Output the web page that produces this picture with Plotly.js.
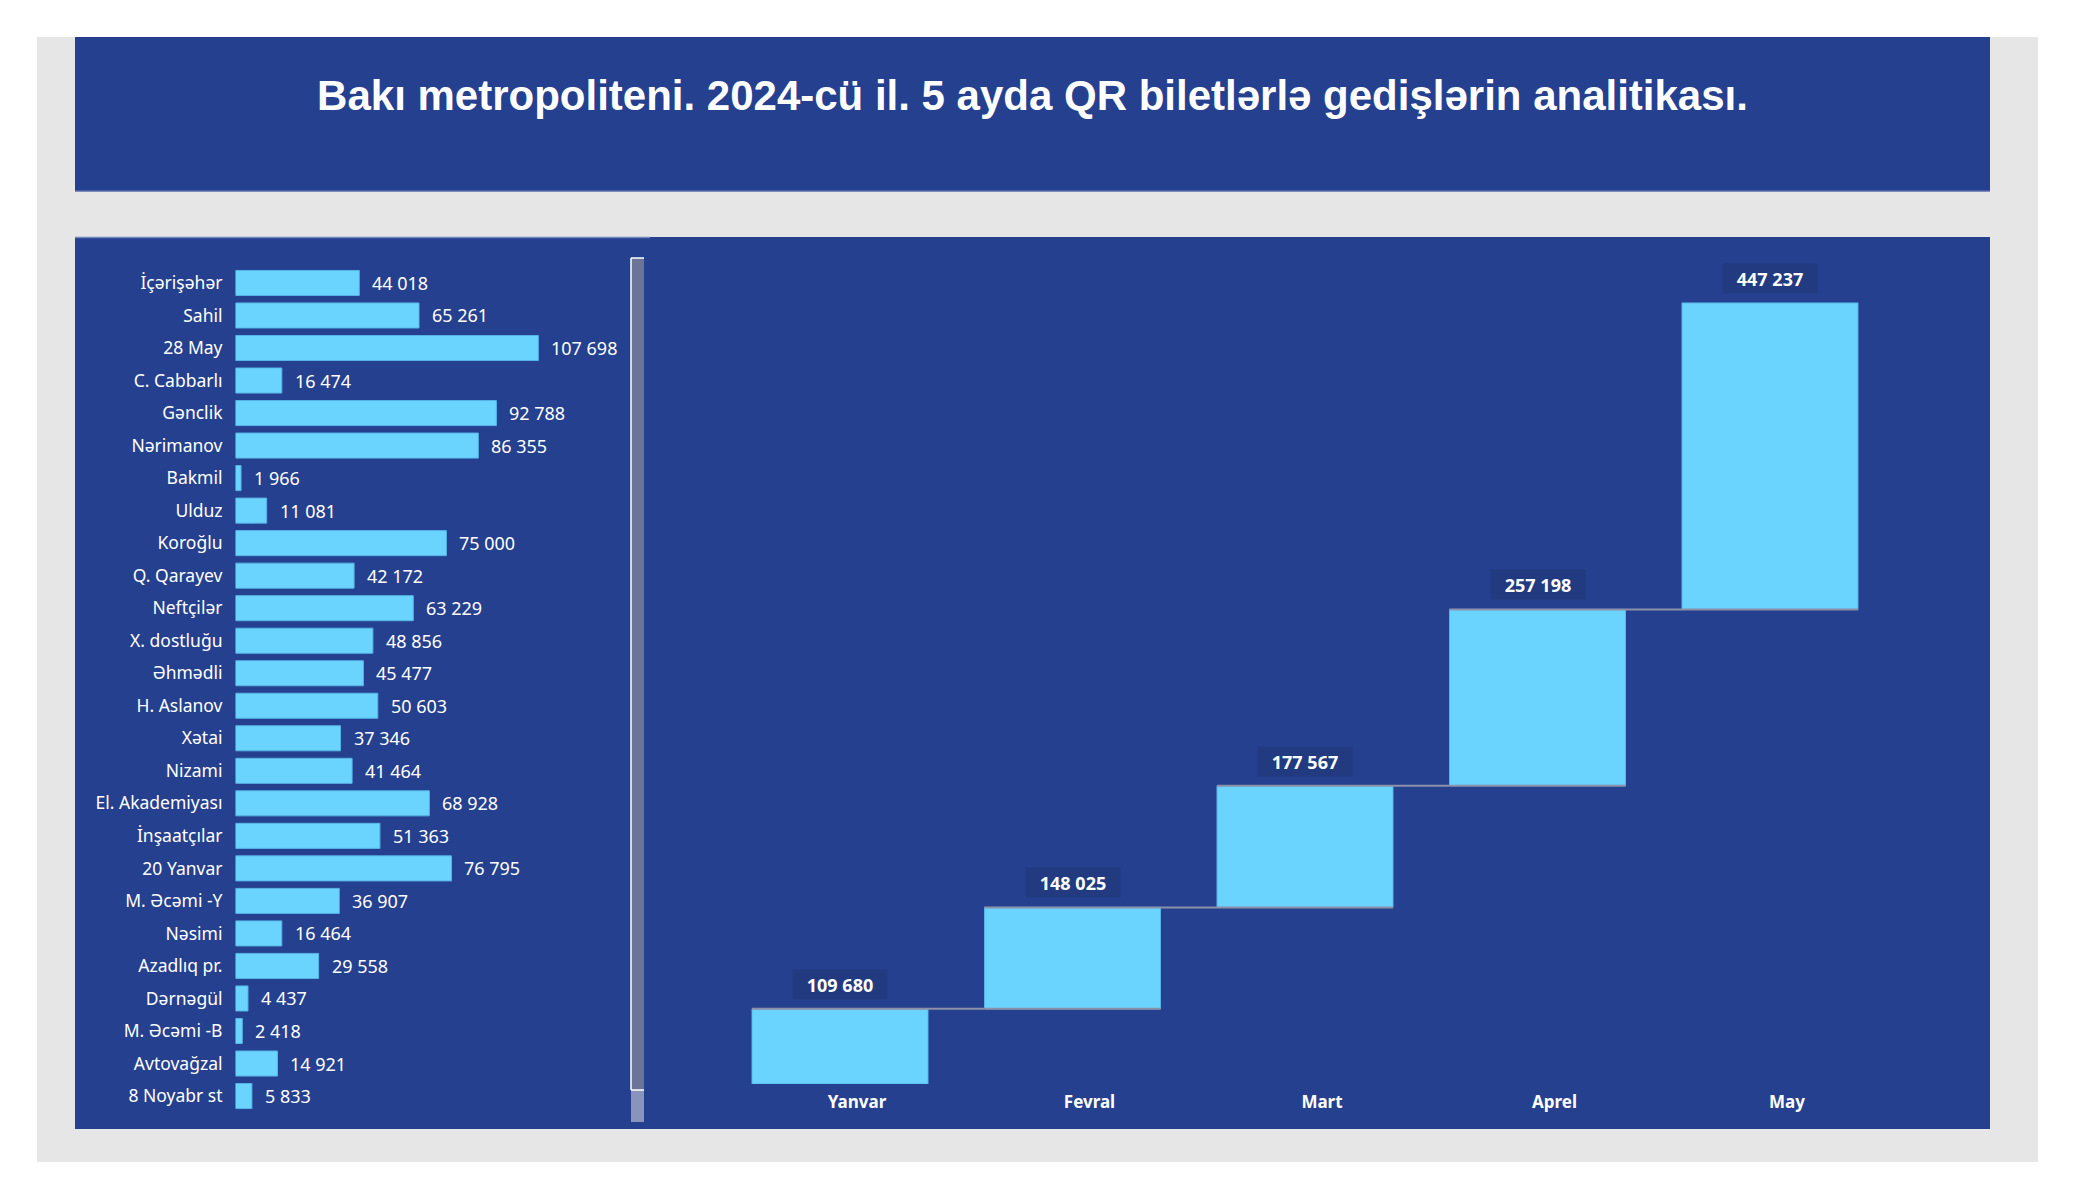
<!DOCTYPE html>
<html>
<head>
<meta charset="utf-8">
<script src="https://cdn.plot.ly/plotly-3.0.1.min.js"></script>
<style>
html,body{margin:0;padding:0;background:#ffffff;}
#chart{width:2075px;height:1200px;}
</style>
</head>
<body>
<div id="chart"></div>
<script>
// ---- data ----
const stations = ['İçərişəhər','Sahil','28 May','C. Cabbarlı','Gənclik','Nərimanov','Bakmil','Ulduz','Koroğlu','Q. Qarayev','Neftçilər','X. dostluğu','Əhmədli','H. Aslanov','Xətai','Nizami','El. Akademiyası','İnşaatçılar','20 Yanvar','M. Əcəmi -Y','Nəsimi','Azadlıq pr.','Dərnəgül','M. Əcəmi -B','Avtovağzal','8 Noyabr st'];
const rides = [44018,65261,107698,16474,92788,86355,1966,11081,75000,42172,63229,48856,45477,50603,37346,41464,68928,51363,76795,36907,16464,29558,4437,2418,14921,5833];
const months = ['Yanvar','Fevral','Mart','Aprel','May'];
const monthly = [109680,148025,177567,257198,447237];
const titleText = 'Bakı metropoliteni. 2024-cü il. 5 ayda QR biletlərlə gedişlərin analitikası.';

// ---- helpers ----
const W = 2075, H = 1200;
const px = v => v / W;
const py = v => 1 - v / H;
const fmt = n => String(n).replace(/\B(?=(\d{3})+(?!\d))/g, ' ');

const PANEL = '#25408F';
const BAR = '#6AD4FF';
const FONT = 'Noto Sans, Open Sans, sans-serif';

function rect(x0, y0, x1, y1, fill, line) {
  return {type:'rect', xref:'paper', yref:'paper', x0:px(x0), x1:px(x1), y0:py(y1), y1:py(y0),
    fillcolor:fill, line: line || {width:0}, layer:'below'};
}
function hline(x0, x1, y, color, w) {
  return {type:'line', xref:'paper', yref:'paper', x0:px(x0), x1:px(x1), y0:py(y), y1:py(y),
    line:{color:color, width:w}, layer:'below'};
}
function vline(x, y0, y1, color, w) {
  return {type:'line', xref:'paper', yref:'paper', x0:px(x), x1:px(x), y0:py(y0), y1:py(y1),
    line:{color:color, width:w}, layer:'above'};
}

const shapes = [
  rect(37, 37, 2038, 1162, '#E6E6E6'),
  rect(75, 37, 1990, 191, PANEL),
  hline(75, 1990, 191, '#5A6DA8', 1.5),
  rect(75, 237, 1990, 1129, PANEL),
  hline(75, 650, 237.5, '#7285BC', 1.5),
  // scrollbar
  {type:'rect', xref:'paper', yref:'paper', x0:px(631), x1:px(644), y0:py(1090), y1:py(258),
    fillcolor:'#6B7496', line:{width:0}, layer:'above'},
  {type:'rect', xref:'paper', yref:'paper', x0:px(631), x1:px(644), y0:py(1122), y1:py(1090),
    fillcolor:'#8A93BC', line:{width:0}, layer:'above'},
  vline(631, 258, 1090, '#FFFFFF', 1.5),
  {type:'line', xref:'paper', yref:'paper', x0:px(631), x1:px(644), y0:py(258), y1:py(258), line:{color:'#FFFFFF', width:1.5}, layer:'above'},
  {type:'line', xref:'paper', yref:'paper', x0:px(631), x1:px(644), y0:py(1090), y1:py(1090), line:{color:'#FFFFFF', width:1.5}, layer:'above'}
];

// cumulative tops for waterfall labels
const cum = [];
monthly.reduce((s, v, i) => { cum[i] = s + v; return s + v; }, 0);

const annotations = [];
stations.forEach((s, i) => {
  annotations.push({x: rides[i], y: s, xref:'x', yref:'y', xanchor:'left', yanchor:'middle',
    xshift: 11, text: fmt(rides[i]), showarrow:false,
    font:{family:FONT, size:18, color:'#FFFFFF'}});
});
months.forEach((m, i) => {
  annotations.push({x: m, y: cum[i], xref:'x2', yref:'y2', xanchor:'center', yanchor:'bottom',
    yshift: 9, text: fmt(monthly[i]), showarrow:false, bgcolor:'#223A80',
    width: 86, height: 21, borderpad: 4,
    font:{family:FONT, size:18, color:'#FFFFFF', weight:'bold'}});
});

const traces = [
  {type:'bar', orientation:'h', x: rides, y: stations, xaxis:'x', yaxis:'y',
   marker:{color:BAR, line:{color:'#58B4E6', width:1}}, hoverinfo:'skip'},
  {type:'waterfall', x: months, y: monthly, measure: months.map(() => 'relative'),
   xaxis:'x2', yaxis:'y2', textinfo:'none', hoverinfo:'skip',
   increasing:{marker:{color:BAR, line:{color:'#58B4E6', width:1}}},
   connector:{mode:'spanning', line:{color:'#8C90A8', width:2}}}
];

const layout = {
  width: W, height: H,
  margin:{l:0, r:0, t:0, b:0, pad:0},
  paper_bgcolor:'#FFFFFF', plot_bgcolor:'rgba(0,0,0,0)',
  showlegend:false,
  hovermode:false,
  bargap:0.23,
  waterfallgap:0.243,
  title:{text:'<b>' + titleText + '</b>', x:0.4976, xanchor:'center', xref:'paper',
    y: 1 - 95/H, yanchor:'middle', yref:'container',
    font:{family:'Liberation Sans, Arial, sans-serif', size:42, color:'#FFFFFF'}},
  xaxis:{domain:[px(235.5), px(235.5 + 140000*0.002812)], range:[0, 140000], visible:false, fixedrange:true},
  yaxis:{domain:[1 - 1112.3/H, 1 - 266.7/H], type:'category', range:[25.5, -0.5],
    showgrid:false, zeroline:false, showline:false, ticks:'', ticklabelstandoff:12,
    tickfont:{family:FONT, size:17.5, color:'#FFFFFF'}, fixedrange:true},
  xaxis2:{domain:[px(723.75), px(1886.25)], anchor:'y2', type:'category', range:[-0.5, 4.5],
    showgrid:false, zeroline:false, showline:false, ticks:'', ticklabelshift:17, ticklabelstandoff:6,
    tickfont:{family:FONT, size:17, color:'#FFFFFF', weight:'bold'}, fixedrange:true},
  yaxis2:{domain:[1 - 1084/H, 1 - 261.6/H], anchor:'x2', range:[0, 1200000], visible:false, fixedrange:true},
  shapes: shapes,
  annotations: annotations
};

Plotly.newPlot('chart', traces, layout, {staticPlot:true, displayModeBar:false});
</script>
</body>
</html>
